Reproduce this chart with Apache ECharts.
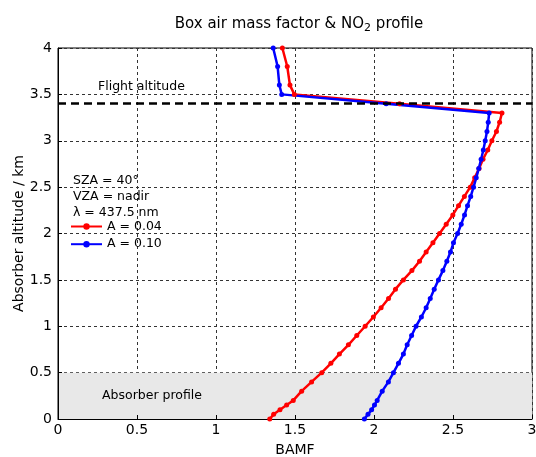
<!DOCTYPE html>
<html>
<head>
<meta charset="utf-8">
<script src="https://cdn.jsdelivr.net/npm/echarts@6/dist/echarts.min.js"></script>
<style>html,body{margin:0;padding:0;background:#fff}#c{width:536px;height:457px}</style>
</head>
<body>
<div id="c"></div>
<script>
// Absorber altitude (km)
const altitudes = [0, 0.05, 0.1, 0.15, 0.2, 0.3, 0.4, 0.5, 0.6, 0.7, 0.8, 0.9, 1.0, 1.1, 1.2, 1.3, 1.4, 1.5, 1.6, 1.7, 1.8, 1.9, 2.0, 2.1, 2.2, 2.3, 2.4, 2.5, 2.6, 2.7, 2.8, 2.9, 3.0, 3.1, 3.2, 3.3, 3.4, 3.5, 3.6, 3.8, 4.0];
// BAMF, albedo A = 0.04
const bamfA004 = [1.34, 1.365, 1.405, 1.447, 1.489, 1.542, 1.605, 1.669, 1.727, 1.781, 1.838, 1.891, 1.944, 1.996, 2.045, 2.092, 2.136, 2.186, 2.24, 2.288, 2.33, 2.373, 2.415, 2.457, 2.499, 2.535, 2.572, 2.609, 2.637, 2.665, 2.69, 2.72, 2.746, 2.775, 2.795, 2.81, 2.161, 1.496, 1.468, 1.451, 1.42];
// BAMF, albedo A = 0.10
const bamfA010 = [1.939, 1.962, 1.985, 2.003, 2.02, 2.052, 2.091, 2.123, 2.155, 2.186, 2.21, 2.238, 2.266, 2.30, 2.33, 2.356, 2.381, 2.408, 2.436, 2.461, 2.484, 2.503, 2.529, 2.552, 2.573, 2.592, 2.612, 2.63, 2.647, 2.663, 2.678, 2.692, 2.704, 2.715, 2.723, 2.729, 2.077, 1.416, 1.401, 1.39, 1.362];
const seriesNames = ['A = 0.04', 'A = 0.10'];
const flightAltitude = 3.4;
const absorberTop = 0.5;
const infoLines = ['SZA = 40°', 'VZA = nadir', 'λ = 437.5 nm'];

const FONT = 'DejaVu Sans';
const chart = echarts.init(document.getElementById('c'), null, {renderer: 'canvas'});
const pairs = arr => arr.map((v, i) => [v, altitudes[i]]);

chart.setOption({
  animation: false,
  backgroundColor: '#fff',
  textStyle: {fontFamily: FONT},
  title: [{
    text: 'Box air mass factor & NO{sub|2} profile',
    left: 294, top: 10, textAlign: 'center',
    textStyle: {fontFamily: FONT, fontWeight: 'normal', fontSize: 15, color: '#000',
      rich: {sub: {fontFamily: FONT, fontSize: 11, color: '#000', verticalAlign: 'bottom', padding: [8, 0, 0, 0]}}}
  }, {
    text: infoLines.join('\n'),
    left: 68, top: 168,
    textStyle: {fontFamily: FONT, fontWeight: 'normal', fontSize: 12.5, color: '#000', lineHeight: 16}
  }],
  grid: {left: 58, right: 4, top: 48, bottom: 38, show: true, borderColor: '#000', borderWidth: 1, backgroundColor: 'transparent', containLabel: false, outerBoundsMode: 'none'},
  legend: {
    orient: 'vertical', left: 70, top: 220, itemWidth: 31, itemHeight: 8, itemGap: 4.7,
    padding: 0,
    textStyle: {fontFamily: FONT, fontSize: 12.5, color: '#000'},
    data: seriesNames
  },
  xAxis: {
    type: 'value', min: 0, max: 3, interval: 0.5, z: 1,
    name: 'BAMF', nameLocation: 'middle', nameGap: 24, nameMoveOverlap: false,
    nameTextStyle: {fontFamily: FONT, fontSize: 14, color: '#000'},
    axisLine: {show: true, lineStyle: {color: '#000', width: 1}},
    axisTick: {show: true, inside: true, length: 4, lineStyle: {color: '#000'}},
    axisLabel: {fontFamily: FONT, fontSize: 14, color: '#000', margin: 4},
    splitLine: {show: true, lineStyle: {color: '#333', width: 1, type: [3, 3]}}
  },
  yAxis: {
    type: 'value', min: 0, max: 4, interval: 0.5, z: 1,
    name: 'Absorber altitude / km', nameLocation: 'middle', nameGap: 32, nameRotate: 90, nameMoveOverlap: false,
    nameTextStyle: {fontFamily: FONT, fontSize: 14, color: '#000'},
    axisLine: {show: true, lineStyle: {color: '#000', width: 1}},
    axisTick: {show: true, inside: true, length: 4, lineStyle: {color: '#000'}},
    axisLabel: {fontFamily: FONT, fontSize: 14, color: '#000', margin: 6},
    splitLine: {show: true, lineStyle: {color: '#333', width: 1, type: [3, 3]}}
  },
  series: [{
    type: 'line', name: '_bg', data: [], z: 0, silent: true,
    markArea: {
      silent: true,
      itemStyle: {color: '#e8e8e8'},
      label: {show: true, position: 'inside', offset: [-143, 0], color: '#000', fontFamily: FONT, fontSize: 12.5, formatter: 'Absorber profile'},
      data: [[{yAxis: 0, xAxis: 0}, {yAxis: absorberTop, xAxis: 3}]]
    },
    markLine: {
      silent: true, symbol: 'none',
      lineStyle: {color: '#000', width: 2.5, type: [8, 5]},
      label: {show: true, position: 'insideStartTop', distance: [40, 10], color: '#000', fontFamily: FONT, fontSize: 12.5, formatter: 'Flight altitude'},
      data: [{yAxis: flightAltitude}]
    }
  }, {
    type: 'line', name: seriesNames[0], data: pairs(bamfA004), z: 3,
    color: '#ff0000', symbol: 'circle', symbolSize: 5, showSymbol: true,
    lineStyle: {width: 2.5, color: '#ff0000'}, itemStyle: {color: '#ff0000'}
  }, {
    type: 'line', name: seriesNames[1], data: pairs(bamfA010), z: 3,
    color: '#0000ff', symbol: 'circle', symbolSize: 5, showSymbol: true,
    lineStyle: {width: 2.5, color: '#0000ff'}, itemStyle: {color: '#0000ff'}
  }]
});
</script>
</body>
</html>
